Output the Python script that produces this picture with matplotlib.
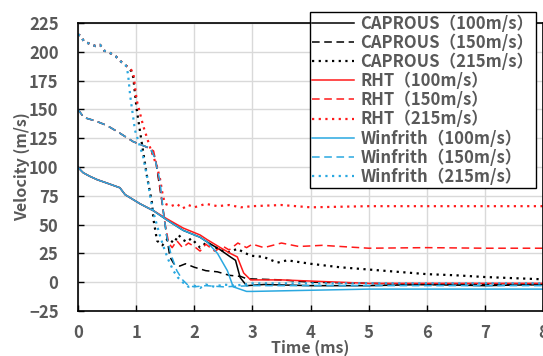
import numpy as np
import matplotlib.pyplot as plt

# --- data (time in ms, velocity in m/s) ---
t_cap100 = [0, 0.05, 0.09, 0.2, 0.33, 0.5, 0.72, 0.81, 1.07, 1.3, 1.53, 1.81, 2.1, 2.22, 2.45, 2.62, 2.71, 2.79, 2.9, 3.2, 4, 5, 6, 7, 8]
v_cap100 = [100, 97, 95, 92, 89, 86, 82, 76, 68, 62, 54, 45, 39, 35, 28, 22, 19, 4, -3, -2, -3, -3, -2, -3, -2]
t_cap150 = [0, 0.1, 0.3, 0.5, 0.7, 0.95, 1.15, 1.24, 1.33, 1.38, 1.45, 1.52, 1.58, 1.65, 1.75, 1.85, 2.0, 2.2, 2.4, 2.6, 2.8, 2.9, 3.5, 4, 5, 6, 7, 8]
v_cap150 = [150, 143, 140, 136, 130, 122, 118, 116, 108, 91, 68, 42, 22, 16, 14, 16, 13, 10, 9, 6, 5, 3, 2, 0, -1, -2, -2, -2]
t_cap215 = [0, 0.05, 0.1, 0.2, 0.3, 0.38, 0.45, 0.55, 0.65, 0.75, 0.85, 0.92, 0.95, 1.01, 1.1, 1.19, 1.27, 1.3, 1.36, 1.45, 1.55, 1.65, 1.73, 1.8, 1.87, 1.95, 2.1, 2.2, 2.3, 2.45, 2.6, 2.74, 2.85, 2.97, 3.19, 3.43, 3.6, 4, 4.5, 5, 5.5, 6, 6.5, 7, 7.5, 8]
v_cap215 = [215, 214, 209, 207, 205, 206, 201, 199, 196, 191, 187, 183, 178, 150, 120, 91, 70, 54, 36, 32, 38, 34, 41, 37, 35, 38, 30, 34, 32, 28, 26, 29, 26, 23, 22, 17, 19, 16, 13, 11, 9, 7, 6, 4.5, 3.5, 2.5]

t_rht100 = [0, 0.05, 0.09, 0.2, 0.33, 0.5, 0.72, 0.81, 1.07, 1.3, 1.53, 1.81, 2.1, 2.22, 2.45, 2.62, 2.74, 2.85, 2.97, 3.5, 4, 5, 6, 7, 8]
v_rht100 = [100, 97, 95, 92, 89, 86, 82, 76, 68, 62, 55, 47, 41, 37, 30, 25, 22, 8, 2, 2, 1, -1, -1, -1, -1]
t_rht150 = [0, 0.1, 0.3, 0.5, 0.7, 0.95, 1.15, 1.3, 1.36, 1.44, 1.5, 1.56, 1.62, 1.7, 1.8, 1.9, 2.0, 2.1, 2.2, 2.35, 2.5, 2.6, 2.75, 2.9, 3.0, 3.2, 3.5, 3.8, 4.2, 5, 6, 7, 8]
v_rht150 = [150, 143, 140, 136, 130, 122, 118, 114, 100, 72, 50, 34, 30, 36, 30, 34, 31, 27, 33, 27, 31, 28, 34, 30, 33, 30, 34, 31, 32, 29.5, 30, 29.5, 29.5]
t_rht215 = [0, 0.05, 0.1, 0.2, 0.3, 0.38, 0.45, 0.55, 0.65, 0.75, 0.85, 0.92, 0.95, 1.01, 1.12, 1.24, 1.36, 1.41, 1.46, 1.5, 1.6, 1.7, 1.8, 1.9, 2.0, 2.2, 2.4, 2.6, 2.8, 3.0, 3.5, 4, 5, 6, 7, 8]
v_rht215 = [215, 214, 209, 207, 205, 206, 201, 199, 196, 191, 187, 184, 182, 158, 136, 117, 100, 90, 75, 68, 66, 68, 64, 67, 65, 68, 66, 67, 65, 66, 67, 65, 66, 66, 66, 66]

t_win100 = [0, 0.05, 0.09, 0.2, 0.33, 0.5, 0.72, 0.81, 1.07, 1.3, 1.53, 1.81, 2.1, 2.22, 2.4, 2.57, 2.67, 2.9, 3.0, 4, 5, 6, 7, 8]
v_win100 = [100, 97, 95, 92, 89, 86, 82, 76, 68, 62, 54, 45, 39, 35, 25, 10, -4, -8, -8, -7, -6, -6, -6, -6]
t_win150 = [0, 0.1, 0.3, 0.5, 0.7, 0.95, 1.15, 1.25, 1.32, 1.41, 1.47, 1.53, 1.6, 1.7, 1.8, 1.9, 2.0, 2.2, 2.5, 3, 4, 5, 6, 7, 8]
v_win150 = [150, 143, 140, 136, 130, 122, 118, 116, 108, 88, 60, 39, 24, 10, 2, -3, -4, -3, -4, -3, -3, -3, -3, -3, -3]
t_win215 = [0, 0.05, 0.1, 0.2, 0.3, 0.38, 0.45, 0.55, 0.65, 0.75, 0.82, 0.86, 0.9, 0.98, 1.12, 1.19, 1.25, 1.3, 1.4, 1.47, 1.55, 1.64, 1.72, 1.8, 1.9, 2.0, 2.1, 2.2, 2.35, 2.5, 2.7, 3, 4, 5, 6, 7, 8]
v_win215 = [215, 214, 209, 207, 205, 206, 201, 199, 196, 191, 189, 181, 161, 132, 109, 91, 72, 60, 42, 31, 20, 10, 4, 0, -4, -3, -5, -2, -4, -2, -3, -1, -1, -1, -1, -1, -1]

series = [
    ("CAPROUS\uff08100m/s\uff09", t_cap100, v_cap100),
    ("CAPROUS\uff08150m/s\uff09", t_cap150, v_cap150),
    ("CAPROUS\uff08215m/s\uff09", t_cap215, v_cap215),
    ("RHT\uff08100m/s\uff09", t_rht100, v_rht100),
    ("RHT\uff08150m/s\uff09", t_rht150, v_rht150),
    ("RHT\uff08215m/s\uff09", t_rht215, v_rht215),
    ("Winfrith\uff08100m/s\uff09", t_win100, v_win100),
    ("Winfrith\uff08150m/s\uff09", t_win150, v_win150),
    ("Winfrith\uff08215m/s\uff09", t_win215, v_win215),
]
colors = ["black"] * 3 + ["#FF1A1A"] * 3 + ["#2AA8E0"] * 3
styles = ["-", (0, (5, 3)), (0, (1, 2))] * 3

plt.rcParams['font.family'] = ['Noto Sans CJK JP', 'DejaVu Sans']
grey = "#595959"

fig = plt.figure(figsize=(5.43, 3.56), dpi=100)
ax = fig.add_axes([78 / 543, 45 / 356, 465 / 543, 288 / 356])

for (lab, t, v), c, ls in zip(series, colors, styles):
    lw = 1.6 if ls == (0, (1, 2)) else 1.1
    ax.plot(t, v, color=c, linestyle=ls, linewidth=lw, label=lab)

ax.set_xlim(0, 8)
ax.set_ylim(-25, 225)
ax.set_xticks(np.arange(0, 9, 1))
ax.set_yticks(np.arange(-25, 226, 25))
ax.grid(True, color="#D9D9D9", linewidth=1)
ax.set_axisbelow(True)
ax.tick_params(direction="in", length=4, width=1, colors="black",
               labelcolor=grey, labelsize=12)
ax.tick_params(axis="y", pad=14)
ax.tick_params(axis="x", pad=9)
for lbl in ax.get_xticklabels() + ax.get_yticklabels():
    lbl.set_fontweight("bold")
for s in ax.spines.values():
    s.set_color("black")
    s.set_linewidth(1.2)

ax.set_xlabel("Time (ms)", color=grey, fontsize=11.5, fontweight="bold", labelpad=-1)
ax.set_ylabel("Velocity (m/s)", color=grey, fontsize=11.5, fontweight="bold", labelpad=-1)

leg = ax.legend(loc="upper right", bbox_to_anchor=(0.985, 1.038), fontsize=12,
                frameon=True, fancybox=False, edgecolor="black", framealpha=1,
                handlelength=2.5, handletextpad=0.4, labelspacing=0.07,
                borderpad=0.15, borderaxespad=0)
leg.get_frame().set_linewidth(1)
for txt in leg.get_texts():
    txt.set_color(grey)
    txt.set_fontweight("bold")

fig.savefig("out.png", dpi=100)
